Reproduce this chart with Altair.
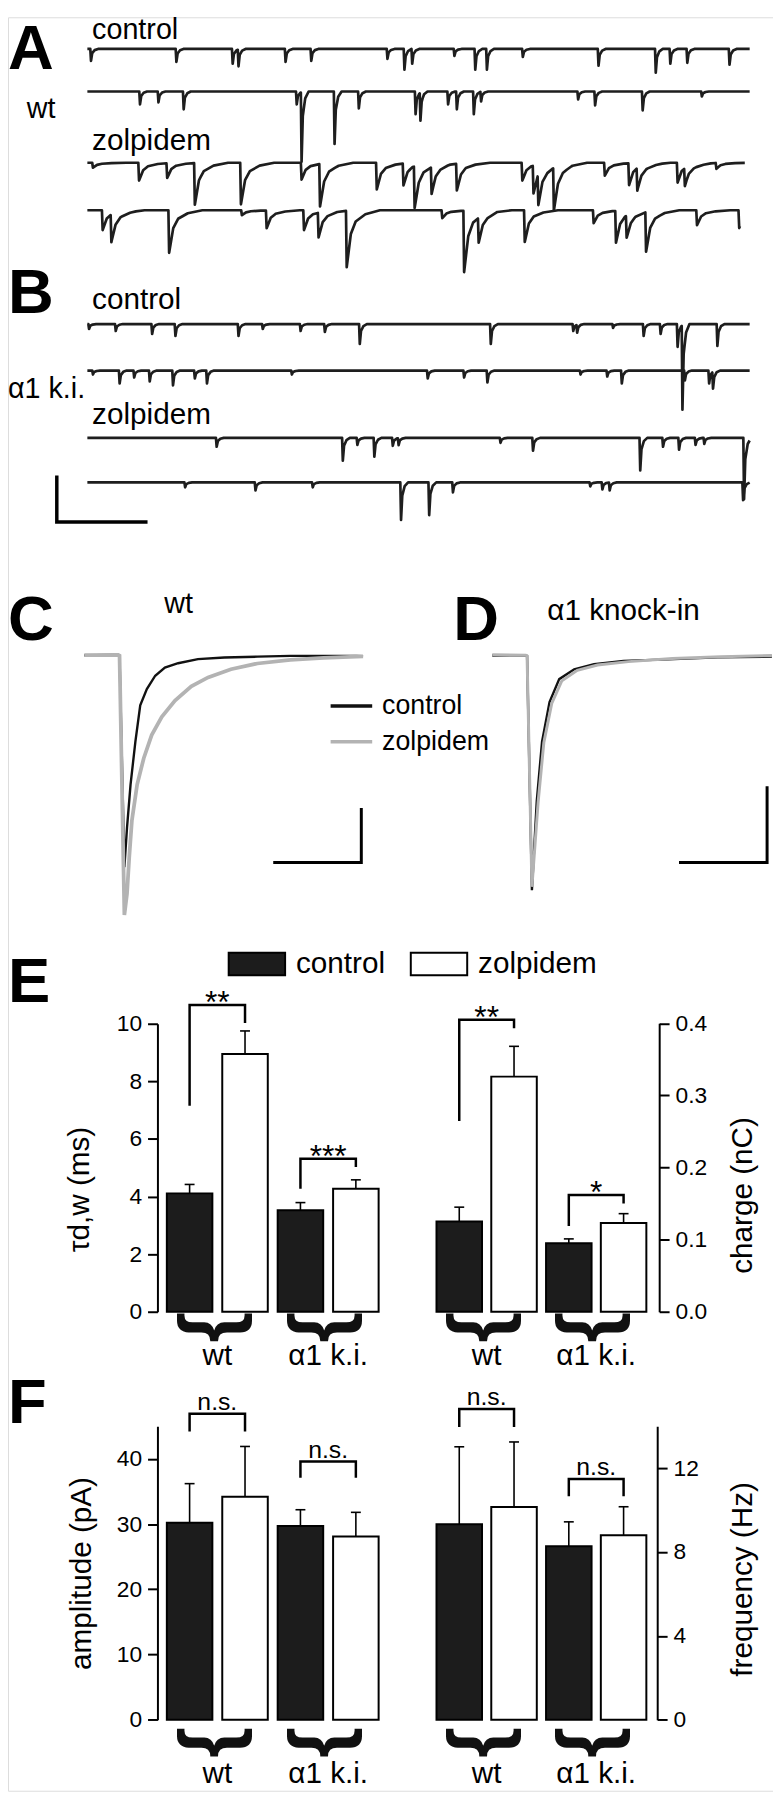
import altair as alt
import numpy as np
import pandas as pd

FONT = "Liberation Sans"
W, H = 773, 1792
M = 8  # page margin: reference pixel -> chart pixel

# ---------------- Panels A/B : sweeps of spontaneous IPSCs ----------------
# event onsets (sample units) and amplitudes (display units)
A_ctrl1_t = [186, 362, 478, 490, 587, 640, 797, 832, 848, 935, 978, 1002, 1076, 1232, 1350, 1380, 1415, 1502]
A_ctrl1_a = [12, 13, 15, 17, 13, 12, 10, 21, 15, 7, 21, 21, 8, 17, 24, 15, 14, 16]
A_ctrl2_t = [287, 325, 377, 610, 620, 688, 738, 855, 865, 922, 940, 975, 990, 1190, 1225, 1323, 1445]
A_ctrl2_a = [13, 11, 18, 13, 70, 53, 17, 23, 28, 13, 18, 23, 10, 8, 14, 19, 5]
A_zolp1_t = [190, 285, 343, 400, 495, 620, 658, 775, 830, 853, 888, 940, 1075, 1098, 1108, 1140, 1245, 1295, 1312, 1395, 1410, 1475]
A_zolp1_a = [5, 18, 15, 42, 42, 17, 43, 27, 22, 42, 27, 27, 18, 28, 30, 43, 13, 22, 23, 20, 18, 6]
A_zolp2_t = [210, 228, 347, 497, 548, 625, 655, 713, 910, 955, 985, 1080, 1222, 1268, 1290, 1330, 1435, 1522]
A_zolp2_a = [20, 28, 43, 5, 18, 20, 25, 57, 8, 62, 25, 32, 13, 32, 22, 40, 15, 18]
B_ctrl1_t = [182, 237, 312, 360, 490, 540, 618, 668, 740, 1010, 1180, 1188, 1262, 1325, 1360, 1395, 1405, 1477]
B_ctrl1_a = [5, 7, 10, 12, 12, 5, 7, 8, 20, 20, 7, 8, 4, 12, 10, 23, 85, 22]
B_ctrl2_t = [190, 245, 275, 307, 355, 400, 425, 600, 880, 955, 1003, 1195, 1250, 1280, 1410, 1460, 1468]
B_ctrl2_a = [4, 13, 7, 11, 15, 8, 13, 4, 8, 7, 12, 4, 6, 13, 10, 13, 17]
B_zolp1_t = [445, 705, 735, 770, 808, 820, 1030, 1097, 1318, 1365, 1398, 1432, 1450, 1532]
B_zolp1_a = [9, 23, 7, 19, 8, 7, 5, 13, 33, 9, 12, 7, 6, 62]
B_zolp2_t = [380, 525, 643, 825, 883, 932, 1215, 1240, 1255, 1530]
B_zolp2_a = [5, 8, 5, 38, 33, 10, 4, 7, 8, 18]
sweep_baseline = [40, 83, 155, 203, 318, 365, 433, 478]
sweep_end = [1545, 1545, 1535, 1525, 1545, 1545, 1545, 1545]
scalebar_B = {"t": 117, "v": 518, "dt": 187, "dv": 47}

# event waveform templates (time after onset, fraction of peak)
FAST = ([0, 1.5, 4, 9, 16], [0, 1, 0.35, 0.1, 0])
SLOW = ([0, 1.5, 10, 20, 40, 70], [0, 1, 0.42, 0.2, 0.07, 0])

sweeps = [(A_ctrl1_t, A_ctrl1_a, FAST), (A_ctrl2_t, A_ctrl2_a, FAST),
          (A_zolp1_t, A_zolp1_a, SLOW), (A_zolp2_t, A_zolp2_a, SLOW),
          (B_ctrl1_t, B_ctrl1_a, FAST), (B_ctrl2_t, B_ctrl2_a, FAST),
          (B_zolp1_t, B_zolp1_a, FAST), (B_zolp2_t, B_zolp2_a, FAST)]

rows = []
for sid, ((ts, amps, ker), base, t1) in enumerate(zip(sweeps, sweep_baseline, sweep_end)):
    kt, kf = ker
    grid = {180, t1}
    for t in ts:
        for k in kt:
            if 180 <= t + k <= t1:
                grid.add(t + k)
    for g in sorted(grid):
        s = sum(a * float(np.interp(g - t, kt, kf, left=0.0, right=0.0)) for t, a in zip(ts, amps))
        rows.append({"sweep": sid, "t": g, "v": -(base + s)})
trace_df = pd.DataFrame(rows)

XAB = alt.Scale(domain=[180, 1545], range=[88.2 - M, 757.4 - M], nice=False, zero=False)
YAB = alt.Scale(domain=[-560, 0], range=[560 - M, -M], nice=False, zero=False)
traces = alt.Chart(trace_df).mark_line(color="#1e1e1e", strokeWidth=2.7, strokeJoin="round").encode(
    x=alt.X("t:Q", scale=XAB, axis=None),
    y=alt.Y("v:Q", scale=YAB, axis=None),
    detail="sweep:N", order="t:Q")
sbB = scalebar_B
sbB_df = pd.DataFrame({"k": [0, 1, 2],
                       "t": [sbB["t"], sbB["t"], sbB["t"] + sbB["dt"]],
                       "v": [-sbB["v"] + sbB["dv"], -sbB["v"], -sbB["v"]]})
sbarB = alt.Chart(sbB_df).mark_line(color="black", strokeWidth=3.5).encode(
    x=alt.X("t:Q", scale=XAB, axis=None), y=alt.Y("v:Q", scale=YAB, axis=None), order="k:Q")
panelAB = alt.layer(traces, sbarB)

# ---------------- Panels C/D : averaged IPSCs ----------------
C_ctrl_t = [-8.0, -0.3, 0.0, 1.1, 1.7, 2.5, 3.6, 4.7, 6.2, 8.1, 10.3, 13.3, 17.8, 23.8, 31.3, 38.8, 46.3, 53.8, 55.3]
C_ctrl_i = [0.1, 0.3, 0.0, -77.7, -63.2, -47.4, -31.6, -18.3, -12.3, -7.4, -4.4, -2.8, -1.3, -0.7, -0.4, -0.1, -0.1, -0.1, -0.2]
C_zolp_t = [-8.0, -0.3, 0.0, 1.1, 1.7, 2.2, 2.8, 4.0, 5.5, 7.3, 9.6, 12.6, 16.3, 20.1, 25.3, 31.3, 38.8, 46.3, 53.8, 55.3]
C_zolp_i = [0.2, 0.3, 0.0, -95.3, -87.4, -74.1, -60.7, -47.4, -37.7, -29.2, -22.5, -16.5, -11.3, -8.0, -5.0, -2.9, -1.6, -0.8, -0.4, -0.3]
D_ctrl_t = [-7.9, -0.3, 0.0, 1.1, 2.2, 3.4, 5.1, 7.3, 10.7, 15.2, 21.9, 32.0, 43.3, 55.6]
D_ctrl_i = [0.1, 0.2, 0.0, -61.5, -38.1, -22.5, -12.1, -6.1, -3.5, -2.2, -1.3, -0.9, -0.4, -0.2]
D_zolp_t = [-7.9, -0.3, 0.0, 1.1, 2.5, 3.8, 5.6, 7.9, 11.4, 16.0, 23.0, 33.0, 44.0, 55.6]
D_zolp_i = [0.3, 0.2, 0.0, -60.6, -38.5, -22.8, -12.5, -6.5, -3.8, -2.4, -1.5, -0.7, -0.2, 0.1]
scalebar_C = {"t_end": 54.9, "i_base": -76.0, "dt": 20, "di": 20}
scalebar_D = {"t_end": 54.5, "i_base": -54.2, "dt": 20, "di": 20}

conds = ["control", "zolpidem"]
# a third, unused domain entry keeps this legend apart from the bar-fill legend
STROKE = alt.Scale(domain=conds + ["trace"], range=["#111111", "#b3b3b3", "#ffffff"])
STROKE_LEG = alt.Legend(orient="none", legendX=324, legendY=673, direction="vertical", title=None,
                        values=conds, symbolType="stroke", symbolSize=1764, symbolStrokeWidth=3.5,
                        labelFont=FONT, labelFontSize=27, labelColor="black", labelOffset=8,
                        rowPadding=0, padding=0)


def avg_panel(ct, ci, zt, zi, xr, ydom, yr, sb, wz):
    X = alt.X("t:Q", scale=alt.Scale(domain=[-8, 56], range=xr, nice=False, zero=False), axis=None)
    Y = alt.Y("i:Q", scale=alt.Scale(domain=ydom, range=yr, nice=False, zero=False), axis=None)
    S = alt.Stroke("cond:N", scale=STROKE, legend=STROKE_LEG)
    dc = pd.DataFrame({"t": ct, "i": ci, "cond": "control", "k": range(len(ct))})
    dz = pd.DataFrame({"t": zt, "i": zi, "cond": "zolpidem", "k": range(len(zt))})
    black = alt.Chart(dc).mark_line(strokeWidth=2.4).encode(x=X, y=Y, stroke=S, order="k:Q")
    gray = alt.Chart(dz).mark_line(strokeWidth=wz).encode(x=X, y=Y, stroke=S, order="k:Q")
    sdf = pd.DataFrame({"k": [0, 1, 2],
                        "t": [sb["t_end"] - sb["dt"], sb["t_end"], sb["t_end"]],
                        "i": [sb["i_base"], sb["i_base"], sb["i_base"] + sb["di"]]})
    bar = alt.Chart(sdf).mark_line(color="black", strokeWidth=3).encode(x=X, y=Y, order="k:Q")
    return alt.layer(black, gray, bar)


panelC = avg_panel(C_ctrl_t, C_ctrl_i, C_zolp_t, C_zolp_i, [85.1 - M, 369.9 - M],
                   [-100, 5], [928 - M, 639.25 - M], scalebar_C, 3.8)
panelD = avg_panel(D_ctrl_t, D_ctrl_i, D_zolp_t, D_zolp_i, [496.9 - M, 781.7 - M],
                   [-70, 5], [922.8 - M, 634.05 - M], scalebar_D, 3.0)

# ---------------- Panels E/F : bar charts ----------------
groups = ["wt", "α1 k.i."]
E_tau = [4.11, 8.95, 3.52, 4.27]
E_tau_err = [0.31, 0.80, 0.27, 0.31]
E_tau_sig = ["**", "***"]
E_tau_brk = {"left": [7.15, 4.27], "top": [10.65, 5.31], "right": [10.03, 5.03]}
E_charge = [0.125, 0.326, 0.095, 0.123]
E_charge_err = [0.020, 0.042, 0.006, 0.013]
E_charge_sig = ["**", "*"]
E_charge_brk = {"left": [0.2645, 0.119], "top": [0.405, 0.162], "right": [0.393, 0.150]}
F_amp = [30.2, 34.2, 29.7, 28.1]
F_amp_err = [6.0, 7.7, 2.5, 3.7]
F_amp_sig = ["n.s.", "n.s."]
F_amp_brk = {"left": [44.2, 37.1], "top": [46.9, 39.6], "right": [44.2, 37.1]}
F_freq = [9.33, 10.15, 8.28, 8.80]
F_freq_err = [3.69, 3.10, 1.16, 1.36]
F_freq_sig = ["n.s.", "n.s."]
F_freq_brk = {"left": [13.96, 10.66], "top": [14.82, 11.48], "right": [13.96, 10.66]}

FILL = alt.Scale(domain=conds, range=["#1c1c1c", "#ffffff"])
FILL_LEG = alt.Legend(orient="none", legendX=222, legendY=927, direction="horizontal", title=None,
                      symbolType="M-1,-0.4L1,-0.4L1,0.4L-1,0.4Z", symbolSize=3249,
                      symbolStrokeColor="black", symbolStrokeWidth=2, symbolOpacity=1,
                      labelFont=FONT, labelFontSize=30, labelColor="black", labelOffset=10,
                      columnPadding=21, padding=0)


def yaxis(orient, offset, values, fmt, title, tx, ty):
    return alt.Axis(orient=orient, offset=offset, values=values, format=fmt, title=title,
                    titleX=tx, titleY=ty, titleAngle=-90, titleBaseline="bottom", titleAlign="center",
                    titleFont=FONT, titleFontSize=30, titleFontWeight="normal", titleColor="black",
                    labelFont=FONT, labelFontSize=23, labelColor="black", labelPadding=6,
                    labelOverlap=False, labelFlush=False,
                    tickSize=10, tickWidth=2, tickColor="black",
                    domainWidth=2, domainColor="black", grid=False)


def bar_panel(vals, errs, sig, brk, xr, ydom, yr, axis, sig_size, sig_dy, brace_dy, label_dy):
    df = pd.DataFrame({"pos": list(range(len(vals))),
                       "group": [g for g in groups for _ in conds],
                       "cond": conds * len(groups), "value": vals, "err": errs})
    df["top"] = df["value"] + df["err"]
    df["base"] = 0.0
    gdf = pd.DataFrame({"group": groups, "center": [2 * i + 0.5 for i in range(len(groups))],
                        "sig": sig, "top": brk["top"], "base": 0.0})
    brows = []
    for i in range(len(groups)):
        pts = [(2 * i, brk["left"][i]), (2 * i, brk["top"][i]),
               (2 * i + 1, brk["top"][i]), (2 * i + 1, brk["right"][i])]
        for k, (p, y) in enumerate(pts):
            brows.append({"b": i, "k": k, "pos": p, "y": y})
    bdf = pd.DataFrame(brows)
    XS = alt.Scale(domain=[-0.5, 3.5], range=xr, nice=False, zero=False)
    YS = alt.Scale(domain=ydom, range=yr, nice=False)

    def X(f):
        return alt.X(f, type="quantitative", scale=XS, axis=None)

    def Y(f):
        # every layer carries the same axis so that the shared axis merges cleanly
        return alt.Y(f, type="quantitative", scale=YS, axis=axis)

    bars = alt.Chart(df).mark_bar(size=46, stroke="black", strokeWidth=2).encode(
        x=X("pos"), y=Y("value"), y2="base:Q",
        fill=alt.Fill("cond:N", scale=FILL, legend=FILL_LEG))
    err = alt.Chart(df).mark_rule(color="black", strokeWidth=1.6).encode(x=X("pos"), y=Y("value"), y2="top:Q")
    cap = alt.Chart(df).mark_tick(orient="horizontal", size=10, thickness=1.6, color="black", opacity=1).encode(
        x=X("pos"), y=Y("top"))
    brack = alt.Chart(bdf).mark_line(color="black", strokeWidth=2.5).encode(
        x=X("pos"), y=Y("y"), detail="b:N", order="k:Q")
    stars = alt.Chart(gdf).mark_text(font=FONT, fontSize=sig_size, color="black", baseline="alphabetic",
                                     yOffset=sig_dy).encode(x=X("center"), y=Y("top"), text="sig:N")
    brace = alt.Chart(gdf).mark_text(text="}", font=FONT, fontSize=80, fontWeight="bold", angle=90,
                                     align="center", baseline="middle", color="#111111",
                                     yOffset=brace_dy).encode(x=X("center"), y=Y("base"))
    lab = alt.Chart(gdf).mark_text(font=FONT, fontSize=30, color="black", baseline="alphabetic",
                                   yOffset=label_dy).encode(x=X("center"), y=Y("base"), text="group:N")
    return alt.layer(bars, err, cap, brack, stars, brace, lab)


XL = [158.5 - M, 392.5 - M]
XR = [431.3 - M, 662.7 - M]
E_left = bar_panel(E_tau, E_tau_err, E_tau_sig, E_tau_brk, XL, [0, 10], [1316 - M, 1025 - M],
                   yaxis("left", -151, [0, 2, 4, 6, 8, 10], "d", "τd,w (ms)", -64, 1184),
                   32, 8, 15.5, 54)
E_right = bar_panel(E_charge, E_charge_err, E_charge_sig, E_charge_brk, XR, [0, 0.4], [1316 - M, 1024.5 - M],
                    yaxis("right", -115, [0, 0.1, 0.2, 0.3, 0.4], ".1f", "charge (nC)", 99, 1190),
                    32, 8, 15.5, 54)
F_left = bar_panel(F_amp, F_amp_err, F_amp_sig, F_amp_brk, XL, [0, 45], [1728.3 - M, 1431.7 - M],
                   yaxis("left", -151, [0, 10, 20, 30, 40], "d", "amplitude (pA)", -62, 1572),
                   25, -4, 23, 64)
F_right = bar_panel(F_freq, F_freq_err, F_freq_sig, F_freq_brk, XR, [0, 14], [1728.3 - M, 1431.7 - M],
                    yaxis("right", -117, [0, 4, 8, 12], "d", "frequency (Hz)", 101, 1578),
                    25, -4, 23, 64)

# ---------------- text annotations ----------------
ONE = pd.DataFrame({"k": [0]})


def txt(s, x, y, size=30, weight="normal"):
    return alt.Chart(ONE).mark_text(text=s, font=FONT, fontSize=size, fontWeight=weight, align="left",
                                    baseline="alphabetic", color="black").encode(
        x=alt.value(max(x - M, 0)), y=alt.value(y - M))


texts = [
    txt("A", 3, 60, 64, "bold"), txt("control", 93, 30, 29), txt("wt", 27, 110, 29), txt("zolpidem", 93, 142),
    txt("B", 3, 307, 64, "bold"), txt("control", 93, 303), txt("α1 k.i.", 7, 393, 29), txt("zolpidem", 93, 419),
    txt("C", 3, 637, 64, "bold"), txt("wt", 166, 610, 29),
    txt("D", 458, 637, 64, "bold"), txt("α1 knock-in", 553, 617, 30),
    txt("E", 3, 1003, 64, "bold"), txt("F", 3, 1428, 64, "bold"),
]

chart = alt.layer(panelAB, panelC, panelD, E_left, E_right, F_left, F_right, *texts).resolve_scale(
    x="independent", y="independent"
).properties(
    width=W, height=H, autosize=alt.AutoSizeParams(type="none"), padding=0, background="white"
).configure_view(stroke=None).configure(font=FONT)

chart.save("out.html", embed_options={"renderer": "svg", "actions": False})
